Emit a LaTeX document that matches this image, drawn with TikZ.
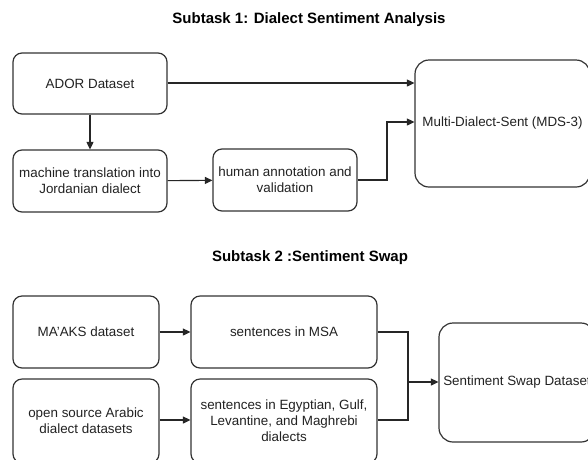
\documentclass[tikz,border=0pt]{standalone}
\usepackage{fontspec}
\setmainfont{Liberation Sans}
\usetikzlibrary{arrows.meta}
\definecolor{edge}{HTML}{333333}
\definecolor{txt}{HTML}{222222}
\tikzset{
  box/.style={draw=edge, line width=1.2pt, rounded corners=9pt, inner sep=0pt,
    align=center, text=txt, font=\fontsize{13.4}{16}\selectfont},
  bigbox/.style={box, rounded corners=14pt},
  title/.style={font=\fontsize{15}{17}\selectfont\bfseries, text=black},
  conn/.style={draw=black!85, line width=1.1pt, -{Triangle[length=7.5pt,width=7pt]}},
  plain/.style={draw=black!85, line width=1.1pt}
}
\begin{document}
\begin{tikzpicture}[x=1pt,y=-1pt]
\useasboundingbox (0,0) rectangle (588,459);
\clip (0,0) rectangle (588,459);
\fill[white] (0,0) rectangle (588,459);

% Subtask 1
\node[title] (t1) at (309,20) {Subtask 1: Dialect Sentiment Analysis};
\node[box, minimum width=154pt, minimum height=61pt] (ador) at (90,83.5) {ADOR Dataset};
\node[box, minimum width=154pt, minimum height=62pt] (mt) at (90,181) {machine translation into\\Jordanian dialect};
\node[box, minimum width=144pt, minimum height=62pt] (ha) at (285,180) {human annotation and\\validation};
\node[bigbox, minimum width=175pt, minimum height=127pt] (mds) at (502.5,123.5) {Multi-Dialect-Sent (MDS-3)};
\coordinate (j1) at (387,122);

\draw[conn] (ador.east |- 0,83) -- (mds.west |- 0,83);
\draw[conn] (ador) -- (mt);
\draw[conn] (mt) -- (ha);
\draw[conn] (ha.east) -| (j1) -- (mds.west |- j1);

% Subtask 2
\node[title] (t2) at (310,258) {Subtask 2 :Sentiment Swap};
\node[box, minimum width=146pt, minimum height=72pt] (maaks) at (86,332) {MA'AKS dataset};
\node[box, minimum width=186pt, minimum height=72pt] (msa) at (284,332) {sentences in MSA};
\node[box, minimum width=146pt, minimum height=84pt] (open) at (86,421) {open source Arabic\\dialect datasets};
\node[box, minimum width=186pt, minimum height=84pt] (egy) at (284,421) {sentences in Egyptian, Gulf,\\Levantine, and Maghrebi\\dialects};
\node[bigbox, minimum width=156pt, minimum height=119pt] (ssd) at (517,382.5) {Sentiment Swap Dataset};
\coordinate (j2) at (408,382);

\draw[conn] (maaks) -- (msa);
\draw[conn] (open.east |- 0,420) -- (egy.west |- 0,420);
\draw[plain] (msa.east) -| (j2);
\draw[plain] (egy.east |- 0,420) -| (j2);
\draw[conn] (j2) -- (ssd.west |- j2);
\end{tikzpicture}
\end{document}
